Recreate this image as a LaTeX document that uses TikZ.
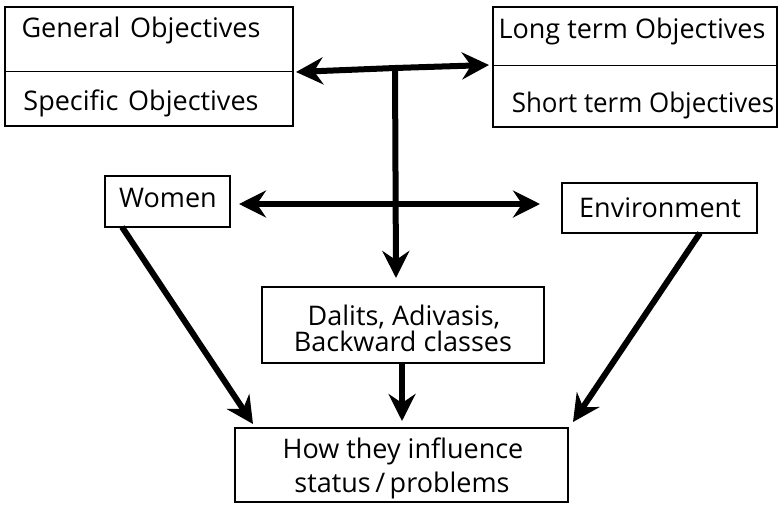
\documentclass[tikz,border=0pt]{standalone}
\usepackage{fontspec}
\setmainfont{Open Sans}
\usetikzlibrary{arrows.meta}
\begin{document}
\begin{tikzpicture}[x=1pt,y=-1pt,
  box/.style={draw,line width=2pt,inner sep=0pt,rectangle},
  lbl/.style={anchor=base,inner sep=0pt,font=\fontsize{27}{30}\selectfont},
  divider/.style={line width=1pt},
  conn/.style={line width=6pt,-{Stealth[length=27pt,width=27pt,inset=9pt]}},
  conn2/.style={line width=6pt,{Stealth[length=27pt,width=27pt,inset=9pt]}-{Stealth[length=27pt,width=27pt,inset=9pt]}},
  plain/.style={line width=6pt}]
\useasboundingbox (0,0) rectangle (783,504);
% boxes
\node[box,minimum width=288pt,minimum height=119pt] (obj1) at (149,66.5) {};
\node[box,minimum width=284pt,minimum height=120pt] (obj2) at (635,67) {};
\node[box,minimum width=125pt,minimum height=51pt] (women) at (167.5,201.5) {};
\node[box,minimum width=195pt,minimum height=50pt] (env) at (659.5,208) {};
\node[box,minimum width=282pt,minimum height=76pt] (dal) at (403,325) {};
\node[box,minimum width=333pt,minimum height=74pt] (how) at (401.5,465) {};
% dividers
\coordinate (d1l) at (5,71); \coordinate (d1r) at (293,71);
\coordinate (d2l) at (493,65); \coordinate (d2r) at (777,65);
\draw[divider] (d1l) -- (d1r);
\draw[divider] (d2l) -- (d2r);
% texts
\node[lbl] (t1) at (141,37) {General\hspace{0.1em} Objectives};
\node[lbl] (t2) at (141,110) {Specific\hspace{0.1em} Objectives};
\node[lbl] (t3) at (632,38) {Long term Objectives};
\node[lbl] (t4) at (643,112) {\scalebox{0.96}[1]{Short term Objectives}};
\node[lbl] (t5) at (168,207) {Women};
\node[lbl] (t6) at (660,217) {Environment};
\node[lbl] (t7) at (404,325) {Dalits, Adivasis,};
\node[lbl] (t8) at (403,351) {Backward classes};
\node[lbl] (t9) at (403,458) {How they influence};
\node[lbl] (t10) at (402,492) {status\,/\,problems};
% connectors
\coordinate (J) at (395,68);
\coordinate (Lt) at (296,72);
\coordinate (Rt) at (489,65);
\coordinate (Vb) at (396,278);
\coordinate (ML) at (239,204);
\coordinate (MR) at (540,204);
\coordinate (Ws) at (122,227);
\coordinate (We) at (253,424);
\coordinate (Es) at (700,233);
\coordinate (Ee) at (573,422);
\coordinate (Ds) at (402,363);
\coordinate (De) at (402,421);
\draw[conn] (J) -- (Lt);
\draw[conn] (J) -- (Rt);
\draw[conn] (J) -- (Vb);
\draw[conn2] (ML) -- (MR);
\draw[conn] (Ws) -- (We);
\draw[conn] (Es) -- (Ee);
\draw[conn] (Ds) -- (De);
\end{tikzpicture}
\end{document}
